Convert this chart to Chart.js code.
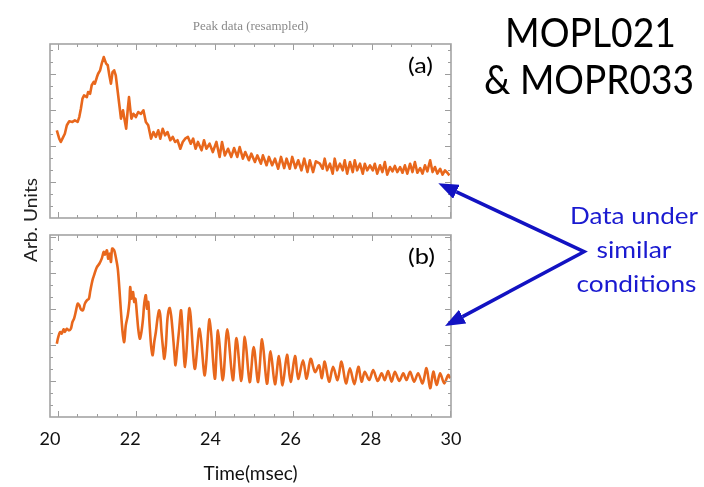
<!DOCTYPE html>
<html>
<head>
<meta charset="utf-8">
<script src="https://cdn.jsdelivr.net/npm/chart.js@4.4.0/dist/chart.umd.min.js"></script>
<style>
body { margin: 0; background: #fff; }
#wrap { position: relative; width: 704px; height: 487px; overflow: hidden; }
canvas { position: absolute; }
#chartA { left: 20px; top: 14px; width: 461px; height: 214px; }
#chartB { left: 20px; top: 225px; width: 461px; height: 262px; }
svg { position: absolute; left: 0; top: 0; }
.lbl { font-family: Lato, 'Open Sans', sans-serif; }
</style>
</head>
<body>
<div id="wrap">
<canvas id="chartA" width="461" height="214"></canvas>
<canvas id="chartB" width="461" height="262"></canvas>
<svg width="704" height="487">
  <defs>
    <marker id="head" markerWidth="5.7" markerHeight="4.4" refX="0" refY="2.2" orient="auto-start-reverse" markerUnits="strokeWidth">
      <polygon points="0 0, 5.7 2.2, 0 4.4" fill="#1212c2"/>
    </marker>
  </defs>
  <text class="lbl" x="590.5" y="47" font-size="40" text-anchor="middle" textLength="171" lengthAdjust="spacingAndGlyphs" fill="#000">MOPL021</text>
  <text class="lbl" x="589" y="94" font-size="40" text-anchor="middle" textLength="210" lengthAdjust="spacingAndGlyphs" fill="#000">&amp; MOPR033</text>
  <text class="lbl" x="634" y="223.5" font-size="24" text-anchor="middle" textLength="128" lengthAdjust="spacingAndGlyphs" fill="#1a1ad0">Data under</text>
  <text class="lbl" x="634" y="257.5" font-size="24" text-anchor="middle" textLength="75" lengthAdjust="spacingAndGlyphs" fill="#1a1ad0">similar</text>
  <text class="lbl" x="636.5" y="291.5" font-size="24" text-anchor="middle" textLength="120" lengthAdjust="spacingAndGlyphs" fill="#1a1ad0">conditions</text>
  <text class="lbl" x="420.5" y="73" font-size="21" text-anchor="middle" textLength="25" lengthAdjust="spacingAndGlyphs" fill="#000">(a)</text>
  <text class="lbl" x="421.5" y="264" font-size="21" text-anchor="middle" textLength="27" lengthAdjust="spacingAndGlyphs" fill="#000">(b)</text>
  <text class="lbl" transform="translate(37,220) rotate(-90)" font-size="17" text-anchor="middle" textLength="84" lengthAdjust="spacingAndGlyphs" fill="#222">Arb. Units</text>
  <polyline points="456.4,191.8 584,251.7 462.6,316.6" fill="none" stroke="#1212c2" stroke-width="3.5" stroke-linejoin="miter" marker-start="url(#head)" marker-end="url(#head)"/>
</svg>
</div>
<script>
// x axis tick labels (msec)
const xTicks = [20, 22, 24, 26, 28, 30];

// panel (a): [time msec, arb. units]
const traceA = [
  [20.17,50.4],[20.23,45.6],[20.27,43.7],[20.31,45.6],[20.37,48.4],[20.42,53.3],[20.48,55.6],[20.56,55.2],
  [20.62,56.1],[20.69,55.2],[20.73,58.0],[20.77,62.8],[20.81,68.6],[20.85,70.5],[20.92,69.5],[20.95,72.4],
  [21.00,71.4],[21.04,76.3],[21.09,78.2],[21.12,77.2],[21.17,81.0],[21.20,82.9],[21.25,84.9],[21.29,88.7],
  [21.34,92.5],[21.37,90.6],[21.40,88.7],[21.44,87.8],[21.48,82.0],[21.52,77.2],[21.56,83.9],[21.60,84.9],
  [21.64,82.0],[21.69,72.4],[21.73,64.8],[21.77,57.1],[21.82,61.9],[21.87,55.2],[21.90,51.3],[21.94,62.8],
  [21.97,69.5],[22.00,62.8],[22.03,57.1],[22.08,59.9],[22.14,58.0],[22.20,60.9],[22.27,59.9],[22.33,61.9],
  [22.39,55.2],[22.45,53.3],[22.52,45.6],[22.58,49.4],[22.64,46.6],[22.70,50.4],[22.75,45.6],[22.81,51.3],
  [22.87,47.5],[22.93,49.4],[23.00,44.7],[23.06,46.6],[23.12,43.7],[23.18,44.7],[23.25,39.8],[23.31,43.7],
  [23.37,45.6],[23.44,46.6],[23.51,42.7],[23.57,45.6],[23.63,39.8],[23.69,43.7],[23.78,38.9],[23.84,44.7],
  [23.90,39.8],[23.98,42.7],[24.06,37.9],[24.15,43.7],[24.23,35.1],[24.29,43.7],[24.36,36.0],[24.44,39.8],
  [24.52,35.1],[24.59,40.2],[24.67,35.1],[24.73,40.8],[24.81,34.1],[24.87,37.9],[24.96,33.2],[25.02,37.0],
  [25.11,32.2],[25.17,36.0],[25.26,31.2],[25.31,36.0],[25.40,30.3],[25.46,35.1],[25.54,30.3],[25.61,34.1],
  [25.69,28.3],[25.76,35.1],[25.84,28.7],[25.90,34.1],[25.98,28.3],[26.04,35.1],[26.12,28.7],[26.19,33.2],
  [26.27,27.4],[26.34,34.1],[26.42,26.4],[26.48,33.2],[26.56,26.4],[26.63,32.6],[26.73,31.2],[26.80,28.3],
  [26.85,34.1],[26.91,27.4],[26.98,31.2],[27.05,25.5],[27.10,34.1],[27.16,27.4],[27.23,31.2],[27.30,27.4],
  [27.35,33.2],[27.41,25.5],[27.48,32.2],[27.55,26.4],[27.60,33.2],[27.66,27.4],[27.73,31.2],[27.80,25.5],
  [27.85,31.2],[27.91,27.4],[27.98,30.3],[28.05,27.4],[28.10,31.2],[28.16,25.5],[28.23,30.3],[28.29,26.4],
  [28.35,32.2],[28.41,24.9],[28.48,29.3],[28.54,26.8],[28.60,29.9],[28.66,26.4],[28.73,29.3],[28.79,26.0],
  [28.85,30.3],[28.91,25.5],[28.98,31.2],[29.04,26.4],[29.10,32.2],[29.16,26.0],[29.23,28.7],[29.29,25.5],
  [29.35,30.3],[29.41,26.8],[29.48,33.2],[29.54,26.4],[29.60,29.3],[29.66,25.5],[29.73,28.3],[29.79,24.9],
  [29.85,27.4],[29.91,26.0],[29.96,24.5]
];

// panel (b): [time msec, arb. units]
const traceB = [
  [20.17,40.3],[20.20,43.4],[20.25,46.7],[20.29,45.8],[20.34,48.2],[20.37,46.7],[20.42,48.5],[20.47,47.6],
  [20.52,48.5],[20.56,52.2],[20.60,54.0],[20.65,58.6],[20.69,62.3],[20.73,61.4],[20.77,59.2],[20.82,58.6],
  [20.87,62.3],[20.92,64.1],[20.97,65.0],[21.00,68.7],[21.04,73.2],[21.07,76.0],[21.10,77.9],[21.13,80.1],
  [21.17,82.4],[21.23,84.2],[21.29,87.0],[21.34,90.7],[21.37,89.2],[21.42,91.6],[21.45,87.0],[21.49,89.7],
  [21.52,85.2],[21.55,92.5],[21.60,91.6],[21.64,87.9],[21.69,81.5],[21.73,70.5],[21.77,57.7],[21.81,46.7],
  [21.85,41.2],[21.89,50.4],[21.94,55.9],[21.98,63.2],[22.00,71.4],[22.03,65.0],[22.07,68.7],[22.10,63.2],
  [22.13,65.0],[22.17,55.9],[22.20,48.5],[22.24,43.0],[22.28,46.7],[22.32,54.0],[22.35,62.3],[22.39,66.9],
  [22.42,59.5],[22.45,63.2],[22.48,52.2],[22.52,39.4],[22.56,33.9],[22.60,41.2],[22.64,46.7],[22.68,54.0],
  [22.72,58.6],[22.75,55.9],[22.78,46.7],[22.82,37.5],[22.85,32.0],[22.89,39.4],[22.93,54.0],[22.98,59.9],
  [23.02,55.9],[23.06,46.7],[23.10,35.7],[23.13,28.4],[23.17,37.0],[23.22,48.0],[23.27,58.5],[23.37,27.5],
  [23.48,59.9],[23.61,26.5],[23.73,48.5],[23.86,22.9],[23.98,53.7],[24.11,21.0],[24.19,47.6],[24.31,20.2],
  [24.42,48.2],[24.56,20.2],[24.65,43.4],[24.77,19.8],[24.86,44.0],[24.98,19.2],[25.08,38.5],[25.19,19.2],
  [25.29,42.7],[25.41,18.3],[25.50,36.1],[25.61,18.0],[25.71,33.5],[25.80,17.4],[25.91,34.2],[26.00,19.2],
  [26.11,33.5],[26.19,21.0],[26.31,31.2],[26.40,21.0],[26.50,32.0],[26.61,24.7],[26.71,28.4],[26.78,21.4],
  [26.85,30.4],[26.96,19.4],[27.06,27.6],[27.17,20.3],[27.27,30.4],[27.38,18.5],[27.48,26.8],[27.59,18.0],
  [27.69,27.6],[27.77,19.4],[27.85,24.9],[27.96,20.3],[28.06,25.8],[28.17,19.8],[28.27,24.0],[28.35,20.3],
  [28.43,25.3],[28.52,19.4],[28.60,24.9],[28.71,19.8],[28.81,24.0],[28.89,20.3],[28.98,24.9],[29.08,19.4],
  [29.18,24.0],[29.29,18.5],[29.39,26.8],[29.48,15.8],[29.56,24.9],[29.64,17.6],[29.73,24.0],[29.83,18.5],
  [29.93,23.1],[29.98,21.3]
];

const lineColor = '#e8671c';

// grey frame with small inward ticks on all four sides
const frameTicks = {
  id: 'frameTicks',
  afterDatasetsDraw(chart, args, opts) {
    const ctx = chart.ctx;
    const a = chart.chartArea;
    const x = chart.scales.x, y = chart.scales.y;
    ctx.save();
    ctx.strokeStyle = '#9c9c9c';
    ctx.lineWidth = 1;
    ctx.beginPath();
    for (let i = 0; ; i++) {
      const t = opts.x0 + i * opts.xStep;
      if (t > x.max) break;
      const px = Math.round(x.getPixelForValue(t)) + 0.5;
      const len = i % 4 === 0 ? 6 : 3;
      ctx.moveTo(px, a.top); ctx.lineTo(px, a.top + len);
      ctx.moveTo(px, a.bottom); ctx.lineTo(px, a.bottom - len);
    }
    for (let i = 1; ; i++) {
      const v = i * opts.yStep;
      if (v >= y.max) break;
      const py = Math.round(y.getPixelForValue(v)) + 0.5;
      const len = i % 3 === 0 ? 6 : 3;
      ctx.moveTo(a.left, py); ctx.lineTo(a.left + len, py);
      ctx.moveTo(a.right, py); ctx.lineTo(a.right - len, py);
    }
    ctx.stroke();
    ctx.strokeStyle = '#a4a4a4';
    ctx.lineWidth = 1.6;
    ctx.strokeRect(a.left, a.top, a.right - a.left, a.bottom - a.top);
    ctx.restore();
  }
};

function makeChart(id, trace, yStep, withAxis) {
  return new Chart(document.getElementById(id), {
    type: 'line',
    data: {
      datasets: [{
        data: trace.map(p => ({ x: p[0], y: p[1] })),
        borderColor: lineColor,
        borderWidth: 2.6,
        pointRadius: 0,
        tension: withAxis ? 0.3 : 0,
        borderJoinStyle: 'round',
        fill: false
      }]
    },
    options: {
      responsive: false,
      animation: false,
      events: [],
      layout: { padding: withAxis ? { left: 30, right: 30, top: 10, bottom: 0 } : { left: 30, right: 30, top: 0, bottom: 10 } },
      plugins: {
        legend: { display: false },
        tooltip: { enabled: false },
        title: {
          display: !withAxis,
          text: 'Peak data (resampled)',
          color: '#8a8a8a',
          font: { family: 'Liberation Serif', size: 13, weight: 'normal', lineHeight: 1.1 },
          padding: { top: 5, bottom: 10.7 }
        },
        frameTicks: { x0: 20.195, xStep: 0.4894, yStep: yStep }
      },
      scales: {
        x: {
          type: 'linear',
          min: 20,
          max: 30,
          display: withAxis,
          grid: { display: false, drawTicks: false },
          border: { display: false },
          afterBuildTicks: s => { s.ticks = xTicks.map(v => ({ value: v })); },
          ticks: {
            padding: 11.8,
            color: '#111',
            font: { family: 'Lato', size: 18 },
            maxRotation: 0,
            callback: v => String(v)
          },
          title: {
            display: true,
            text: 'Time(msec)',
            color: '#111',
            font: { family: 'Lato', size: 19 },
            padding: { top: 0, bottom: 2 }
          }
        },
        y: { min: 0, max: 100, display: false }
      }
    },
    plugins: [frameTicks]
  });
}

const chartA = makeChart('chartA', traceA, 6.9, false);
const chartB = makeChart('chartB', traceB, 6.6, true);
</script>
</body>
</html>
